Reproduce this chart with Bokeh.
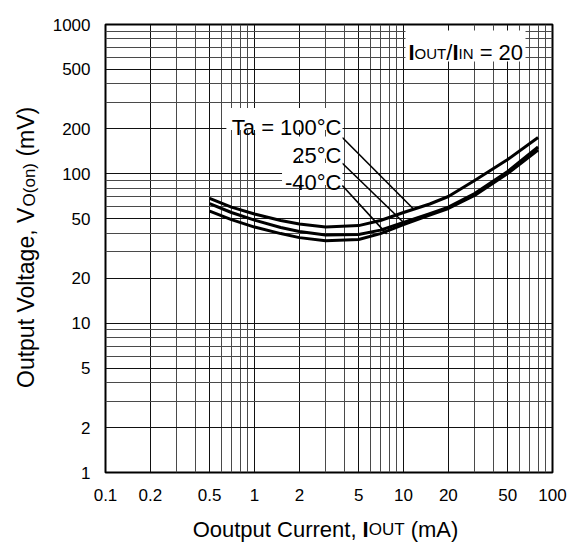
import math
from bokeh.plotting import figure
from bokeh.layouts import row, column
from bokeh.models import Label, FixedTicker, CustomJSTickFormatter, BoxAnnotation, Range1d
from bokeh.embed import file_html
from bokeh.resources import INLINE

# ---------------- data ----------------
current_ma = [0.5, 0.7, 1, 1.5, 2, 3, 5, 7, 10, 15, 20, 30, 50, 80]
von_100c = [68.4, 59.9, 53.8, 48.7, 46.1, 44.0, 45.0, 48.7, 55.1, 62.8, 70.5, 90.2, 124.7, 175.1]
von_25c = [63.2, 55.1, 49.0, 43.7, 41.1, 38.9, 39.2, 42.0, 47.2, 54.2, 59.9, 73.8, 103.6, 151.2]
von_m40c = [56.3, 49.4, 44.0, 39.8, 37.4, 35.7, 36.3, 39.8, 45.7, 53.0, 58.6, 71.6, 100.5, 144.3]

x_major = [0.1, 0.2, 0.5, 1, 2, 5, 10, 20, 50, 100]
x_minor = [0.3, 0.4, 0.6, 0.7, 0.8, 0.9, 3, 4, 6, 7, 8, 9, 30, 40, 60, 70, 80, 90]
y_major = [1, 2, 5, 10, 20, 50, 100, 200, 500, 1000]
y_minor = [3, 4, 6, 7, 8, 9, 30, 40, 60, 70, 80, 90, 300, 400, 600, 700, 800, 900]

# leader lines from the temperature labels to the curves (data units)
leader_x0 = [3.885, 3.885, 3.885]
leader_y0 = [175.0, 117.8, 83.5]
leader_x1 = [11.58, 9.97, 7.71]
leader_y1 = [58.6, 47.4, 39.6]

# ---------------- layout (page pixels) ----------------
FONT = "Liberation Sans"
WT = 568            # total width
SW = 45             # left strip (y title) width
HM = 506            # main figure height
SHIFT = 8           # observed downward offset of the bottom strip's frame
HB = 37             # bottom strip (x title) height
FL, FT, FW, FH = 105, 24, 447, 448   # frame in page px
WM = WT - SW
ML = FL - SW
MR = WM - ML - FW
MT = FT
MB = HM - FT - FH


def px2x(px):
    return 10 ** (-1 + 3 * (px - FL) / FW)


def px2y(py):
    return 10 ** (3 - 3 * (py - FT) / FH)


EM = {' ': .278, '(': .333, ')': .333, ',': .278, '/': .278, '=': .584, '-': .333,
      '°': .4, 'A': .667, 'C': .722, 'I': .278, 'N': .722, 'O': .778, 'T': .611,
      'U': .722, 'V': .667, 'a': .556, 'e': .556, 'g': .556, 'l': .222, 'm': .833,
      'n': .556, 'o': .556, 'p': .556, 'r': .333, 't': .278, 'u': .556}


def tw(s, size):
    return sum(EM.get(c, .556) for c in s) * size


def lead(s, size):
    """width of leading spaces (SVG collapses them) and stripped text"""
    n = len(s) - len(s.lstrip(" "))
    return n * EM[' '] * size, s.lstrip(" ")


# ---------------- main chart ----------------
p = figure(width=WM, height=HM, x_axis_type="log", y_axis_type="log",
           x_range=(0.1, 100), y_range=(1, 1000),
           output_backend="svg", toolbar_location=None,
           min_border_left=ML, min_border_right=MR, min_border_top=MT, min_border_bottom=MB)
p.background_fill_color = "white"
p.border_fill_color = "white"
p.outline_line_color = "black"
p.outline_line_width = 2

fmt = CustomJSTickFormatter(code="return tick.toString();")
p.xaxis.ticker = FixedTicker(ticks=x_major, minor_ticks=x_minor)
p.yaxis.ticker = FixedTicker(ticks=y_major, minor_ticks=y_minor)
for ax in (p.xaxis, p.yaxis):
    ax.formatter = fmt
    ax.axis_line_color = None
    ax.major_tick_line_color = None
    ax.minor_tick_line_color = None
    ax.major_label_text_font = FONT
    ax.major_label_text_font_size = "17px"
    ax.major_label_text_color = "black"
p.xaxis.major_label_standoff = 10
p.yaxis.major_label_standoff = 9

for g in (p.xgrid, p.ygrid):
    g.grid_line_color = "#111111"
    g.grid_line_width = 1
    g.minor_grid_line_color = "#4a4a4a"
    g.minor_grid_line_width = 1

for ys in (von_100c, von_25c, von_m40c):
    p.line(current_ma, ys, line_width=3, line_color="black", line_join="round")

p.segment(x0=leader_x0, y0=leader_y0, x1=leader_x1, y1=leader_y1,
          line_color="black", line_width=1.6)


def add_box(l, r, t, b):
    p.add_layout(BoxAnnotation(left=px2x(l), right=px2x(r), top=px2y(t), bottom=px2y(b),
                               fill_color="white", fill_alpha=1.0, line_color=None))


def add_h(fig, mapx, mapy, x0, base, pieces):
    x = x0
    for text, size, bold, dy in pieces:
        sp, t = lead(text, size)
        x += sp
        fig.add_layout(Label(x=mapx(x), y=mapy(base + dy), text=t,
                             text_font=FONT, text_font_size=f"{size}px",
                             text_font_style="bold" if bold else "normal",
                             text_align="left", text_baseline="alphabetic",
                             text_color="black"))
        x += tw(t, size)


# condition box
add_box(405, 525, 30, 61)
cond = [("I", 22, True, 0), ("OUT", 15, False, 1), ("/", 22, False, 0),
        ("I", 22, True, 0), ("IN", 15, False, 1), (" = 20", 22, False, 0)]
add_h(p, px2x, px2y, 408, 52, cond)

# temperature labels
temps = [("Ta = 100°C", 126.5), ("25°C", 155), ("-40°C", 181.5)]
for text, base in temps:
    w = tw(text, 22)
    add_box(341 - w - 3, 342, base - 19, base + 3)
    p.add_layout(Label(x=px2x(341), y=px2y(base), text=text, text_font=FONT,
                       text_font_size="22px", text_align="right",
                       text_baseline="alphabetic", text_color="black"))


# ---------------- title strips ----------------
def strip(w, h, yr, **kw):
    f = figure(width=w, height=h, x_range=Range1d(0, w), y_range=yr, title=None,
               x_axis_location=None, y_axis_location=None,
               output_backend="svg", toolbar_location=None, **kw)
    f.outline_line_color = None
    f.background_fill_color = "white"
    f.border_fill_color = "white"
    f.grid.visible = False
    return f


# y title: strip frame spans the same rows as the main frame; data y = -page y
ly = strip(SW, HM, Range1d(-(FT + FH), -FT),
           min_border_left=0, min_border_right=0, min_border_top=MT, min_border_bottom=MB)
yt = [("Output Voltage, V", 23, False, 0), ("O(on)", 17, False, 4), (" (mV)", 23, False, 0)]
yy = 387.5
BX = 25
for text, size, bold, dy in yt:
    sp, t = lead(text, size)
    yy -= sp
    ly.add_layout(Label(x=BX + dy, y=-yy, text=t, angle=math.pi / 2,
                        text_font=FONT, text_font_size=f"{size}px",
                        text_align="left", text_baseline="alphabetic", text_color="black"))
    yy -= tw(t, size)

# x title (bottom strip); data y = frame bottom (page) - page y
YB = HM + SHIFT + HB
lx = strip(WT, HB, Range1d(0, HB), min_border=0)
xt = [("Ooutput Current, ", 22, False, 0), ("I", 22, True, 0),
      ("OUT", 17, False, 0), (" (mA)", 22, False, 0)]
xw = sum(tw(t, s) for t, s, _, _ in xt)
add_h(lx, lambda x: x, lambda y: YB - y, 325 - xw / 2, 537, xt)

layout = column(row(ly, p), lx)
open("out.html", "w").write(file_html(layout, INLINE))
